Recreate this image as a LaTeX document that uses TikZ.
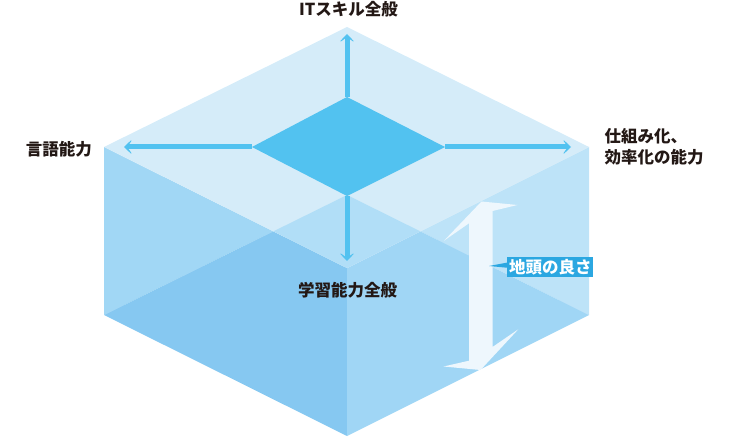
\documentclass[tikz,border=0pt]{standalone}
\usepackage{fontspec}
\newfontfamily\jp{Noto Sans CJK JP}
\usetikzlibrary{arrows.meta,calc}
\definecolor{topc}{HTML}{D5ECF9}
\definecolor{ovlc}{HTML}{B1DEF7}
\definecolor{lfu}{HTML}{A1D7F5}
\definecolor{lfl}{HTML}{86C8F1}
\definecolor{rfu}{HTML}{BDE3F8}
\definecolor{rfl}{HTML}{A0D6F5}
\definecolor{axisblue}{HTML}{52C2F0}
\definecolor{boxblue}{HTML}{2BA7E1}
\definecolor{txtc}{HTML}{231815}
\definecolor{darrc}{HTML}{EEF7FD}
\tikzset{
  axisarrow/.style={draw=axisblue,line width=5bp,-{Stealth[length=10bp,width=19bp,inset=7bp]}},
  lab/.style={font=\jp\bfseries\fontsize{16.5bp}{20.5bp}\selectfont,text=txtc,inner sep=0pt},
}
\begin{document}
\begin{tikzpicture}[x=1bp,y=-1bp]
\useasboundingbox (0,0) rectangle (732,437);
% cube vertices
\coordinate (T) at (347,27);
\coordinate (L) at (104,147);
\coordinate (R) at (589,147);
\coordinate (F) at (347,268);
\coordinate (L2) at (104,315);
\coordinate (R2) at (589,315);
\coordinate (F2) at (347,436);
\coordinate (B2) at (347,195);
\coordinate (PL) at (intersection of L--F and L2--B2);
\coordinate (PR) at (intersection of R--F and R2--B2);
% faces
\fill[lfu] (L) -- (PL) -- (L2) -- cycle;
\fill[lfl] (PL) -- (F) -- (F2) -- (L2) -- cycle;
\fill[rfu] (R) -- (PR) -- (R2) -- cycle;
\fill[rfl] (PR) -- (F) -- (F2) -- (R2) -- cycle;
\fill[topc] (T) -- (L) -- (F) -- (R) -- cycle;
\fill[ovlc] (B2) -- (PL) -- (F) -- (PR) -- cycle;
% centre diamond
\coordinate (dT) at (347,97);
\coordinate (dL) at (252,147);
\coordinate (dR) at (445,147);
\coordinate (dB) at (347,196);
\fill[axisblue] (dT) -- (dL) -- (dB) -- (dR) -- cycle;
% axis arrows
\coordinate (aT) at (347,34);
\coordinate (aL) at (124,147);
\coordinate (aR) at (571,147);
\coordinate (aB) at (347,261);
\draw[axisarrow] (dT) -- (aT);
\draw[axisarrow] (dL) -- (aL);
\draw[axisarrow] (dR) -- (aR);
\draw[axisarrow] (dB) -- (aB);
% double arrow on right face
\fill[darrc] (481.5,201.5) -- (517.5,205) -- (492.5,211) -- (492.5,347)
  -- (518.3,329.3) -- (480.5,370) -- (443.5,366.5) -- (469,360.7)
  -- (469,223.3) -- (444,240.7) -- cycle;
% labels
\node[lab,anchor=center] (it) at (348.5,9) {ITスキル全般};
\node[lab,anchor=east] (gengo) at (92,149) {言語能力};
\node[lab,anchor=west,align=left] (shikumi) at (604.5,147) {仕組み化、\\効率化の能力};
\node[lab,anchor=center] (gaku) at (347.5,290) {学習能力全般};
\node[font=\jp\bfseries\fontsize{16.5bp}{20bp}\selectfont,text=white,fill=boxblue,
  inner sep=0pt,minimum width=86bp,minimum height=20.6bp] (lbl) at (550.3,267) {地頭の良さ};
\coordinate (ptr) at (489,266);
\fill[boxblue] (ptr) -- ($(lbl.west)+(0.5,-4.5)$) -- ($(lbl.west)+(0.5,0.8)$) -- cycle;
\end{tikzpicture}
\end{document}
